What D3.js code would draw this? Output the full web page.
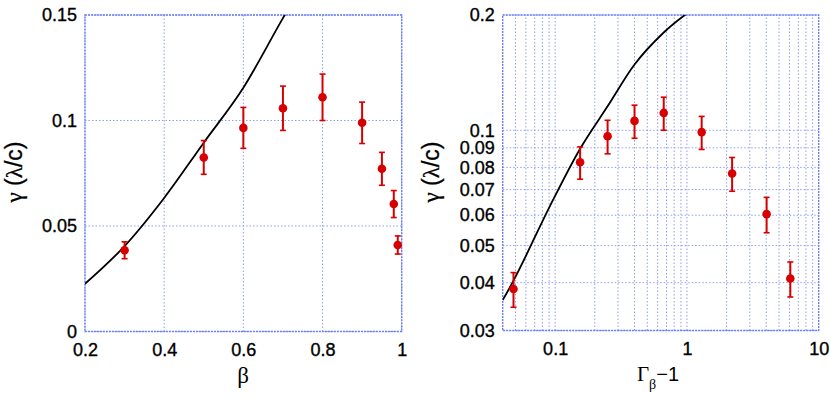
<!DOCTYPE html>
<html>
<head>
<meta charset="utf-8">
<script src="https://cdn.jsdelivr.net/npm/d3@7"></script>
<style>
  html, body { margin: 0; padding: 0; background: #fff; }
  svg { display: block; }
  .tick-label { font-family: "Liberation Sans", Arial, sans-serif; font-size: 18px; fill: #000; stroke: #000; stroke-width: 0.35px; }
</style>
</head>
<body>
<svg id="chart" width="830" height="398"></svg>
<script>
// ---------- data ----------
const beta        = [0.3, 0.5, 0.6, 0.7, 0.8, 0.9, 0.95, 0.98, 0.99];
const gammaMinus1 = [0.0483, 0.1547, 0.25, 0.4003, 0.6667, 1.294, 2.203, 4.025, 6.089];
const growth      = [0.0385, 0.0825, 0.0965, 0.1058, 0.111, 0.0989, 0.0771, 0.0604, 0.041];
const growthErr   = [0.004, 0.008, 0.0097, 0.0105, 0.011, 0.0098, 0.0078, 0.0064, 0.0043];

const curveBeta   = [0.2, 0.3, 0.4, 0.5, 0.6, 0.7, 0.8];
const curveGrowth = [0.0226, 0.0405, 0.0633, 0.0895, 0.1155, 0.1485, 0.18];
const curveGm1    = [0.04, 0.0483, 0.0911, 0.1547, 0.25, 0.4003, 0.6667, 1.294];
const curveGrowthR= [0.036, 0.0405, 0.0633, 0.0895, 0.1155, 0.1485, 0.18, 0.215];

const leftXTicks  = [0.2, 0.4, 0.6, 0.8, 1];
const leftXLabels = ["0.2", "0.4", "0.6", "0.8", "1"];
const leftYTicks  = [0, 0.05, 0.1, 0.15];
const leftYLabels = ["0", "0.05", "0.1", "0.15"];
const rightXTicks = [0.1, 1, 10];
const rightXLabels= ["0.1", "1", "10"];
const rightXGrid  = [0.05,0.06,0.07,0.08,0.09,0.1,0.2,0.3,0.4,0.5,0.6,0.7,0.8,0.9,1,2,3,4,5,6,7,8,9];
const rightYTicks = [0.03,0.04,0.05,0.06,0.07,0.08,0.09,0.1,0.2];
const rightYLabels= ["0.03","0.04","0.05","0.06","0.07","0.08","0.09","0.1","0.2"];

// ---------- styles ----------
const gridColor = "#8f9ef7";
const frameColor = "#6a7ef2";
const red = "#d60000";

const svg = d3.select("#chart");

function panel(opts) {
  const g = svg.append("g");
  const x = opts.x, y = opts.y;
  const [x0, x1] = x.range();
  const [y0, y1] = y.range(); // y0 bottom, y1 top
  const clipId = opts.id + "-clip";
  svg.append("clipPath").attr("id", clipId)
    .append("rect").attr("x", x0).attr("y", y1).attr("width", x1 - x0).attr("height", y0 - y1);

  // grid
  g.selectAll(".gx").data(opts.xGrid).join("line")
    .attr("x1", d => x(d)).attr("x2", d => x(d)).attr("y1", y0).attr("y2", y1)
    .attr("stroke", gridColor).attr("stroke-width", 1).attr("stroke-dasharray", "1.5,2");
  g.selectAll(".gy").data(opts.yGrid).join("line")
    .attr("y1", d => y(d)).attr("y2", d => y(d)).attr("x1", x0).attr("x2", x1)
    .attr("stroke", gridColor).attr("stroke-width", 1).attr("stroke-dasharray", "1.5,2");

  // frame
  g.append("rect").attr("x", x0).attr("y", y1).attr("width", x1 - x0).attr("height", y0 - y1)
    .attr("fill", "none").attr("stroke", frameColor).attr("stroke-width", 1.4)
    .attr("stroke-dasharray", "2,1");

  // axes via d3 axis (labels only)
  const xAxis = d3.axisBottom(x).tickValues(opts.xTicks).tickSize(0).tickPadding(12)
    .tickFormat((d, i) => opts.xLabels[i]);
  const gxAxis = g.append("g").attr("transform", `translate(0,${y0})`).call(xAxis);
  gxAxis.select(".domain").remove();
  gxAxis.selectAll("text").attr("class", "tick-label").attr("font-family", null).attr("font-size", null);

  const yAxis = d3.axisLeft(y).tickValues(opts.yTicks).tickSize(0).tickPadding(8)
    .tickFormat((d, i) => opts.yLabels[i]);
  const gyAxis = g.append("g").attr("transform", `translate(${x0},0)`).call(yAxis);
  gyAxis.select(".domain").remove();
  gyAxis.selectAll("text").attr("class", "tick-label").attr("font-family", null).attr("font-size", null);

  // curve
  const line = d3.line().x(d => x(d[0])).y(d => y(d[1])).curve(d3.curveMonotoneX);
  g.append("path").datum(d3.zip(opts.cx, opts.cy))
    .attr("clip-path", `url(#${clipId})`)
    .attr("d", line).attr("fill", "none").attr("stroke", "#000").attr("stroke-width", 1.8);

  // error bars
  const pts = d3.zip(opts.px, growth, growthErr);
  const eb = g.append("g");
  eb.selectAll(".eb").data(pts).join("line")
    .attr("x1", d => x(d[0])).attr("x2", d => x(d[0]))
    .attr("y1", d => y(d[1] - d[2])).attr("y2", d => y(d[1] + d[2]))
    .attr("stroke", red).attr("stroke-width", 2);
  eb.selectAll(".capT").data(pts).join("line")
    .attr("x1", d => x(d[0]) - 3).attr("x2", d => x(d[0]) + 3)
    .attr("y1", d => y(d[1] + d[2])).attr("y2", d => y(d[1] + d[2]))
    .attr("stroke", red).attr("stroke-width", 1.6);
  eb.selectAll(".capB").data(pts).join("line")
    .attr("x1", d => x(d[0]) - 3).attr("x2", d => x(d[0]) + 3)
    .attr("y1", d => y(d[1] - d[2])).attr("y2", d => y(d[1] - d[2]))
    .attr("stroke", red).attr("stroke-width", 1.6);
  eb.selectAll("circle").data(pts).join("circle")
    .attr("cx", d => x(d[0])).attr("cy", d => y(d[1])).attr("r", 4.3).attr("fill", red);

  return g;
}

// left panel
const xL = d3.scaleLinear().domain([0.2, 1]).range([85, 401.7]);
const yL = d3.scaleLinear().domain([0, 0.15]).range([331.5, 15]);
panel({ id: "left", x: xL, y: yL, xGrid: leftXTicks, yGrid: leftYTicks,
  xTicks: leftXTicks, xLabels: leftXLabels, yTicks: leftYTicks, yLabels: leftYLabels,
  cx: curveBeta, cy: curveGrowth, px: beta });

// right panel
const xR = d3.scaleLog().domain([0.04, 10]).range([502.7, 818.7]);
const yR = d3.scaleLog().domain([0.03, 0.2]).range([330.5, 15]);
panel({ id: "right", x: xR, y: yR, xGrid: rightXGrid, yGrid: rightYTicks,
  xTicks: rightXTicks, xLabels: rightXLabels, yTicks: rightYTicks, yLabels: rightYLabels,
  cx: curveGm1, cy: curveGrowthR, px: gammaMinus1 });

// axis titles
function yTitle(cx, cy) {
  const t = svg.append("text").attr("transform", `translate(${cx},${cy}) rotate(-90)`)
    .attr("text-anchor", "middle").attr("font-size", 23).attr("fill", "#000")
    .attr("stroke", "#000").attr("stroke-width", 0.3);
  t.append("tspan").attr("font-family", "'Liberation Serif', 'DejaVu Serif', serif").text("γ");
  t.append("tspan").attr("font-family", "'Liberation Sans', Arial, sans-serif").text(" (");
  t.append("tspan").attr("font-family", "'Liberation Serif', 'DejaVu Serif', serif").text("λ");
  t.append("tspan").attr("font-family", "'Liberation Sans', Arial, sans-serif").text("/c)");
}
yTitle(22, 172);
yTitle(439, 172);

svg.append("text").attr("x", 243).attr("y", 383).attr("text-anchor", "middle")
  .attr("font-family", "'Liberation Serif', 'DejaVu Serif', serif").attr("font-size", 23).text("β");

const xr = svg.append("text").attr("x", 658).attr("y", 381).attr("text-anchor", "middle").attr("fill", "#000");
xr.append("tspan").attr("font-family", "'Liberation Serif', 'DejaVu Serif', serif").attr("font-size", 21).text("Γ");
xr.append("tspan").attr("font-family", "'Liberation Serif', 'DejaVu Serif', serif").attr("font-size", 14).attr("dy", 8).text("β");
xr.append("tspan").attr("font-family", "'Liberation Sans', Arial, sans-serif").attr("font-size", 20).attr("dy", -8).text("−1");
</script>
</body>
</html>
